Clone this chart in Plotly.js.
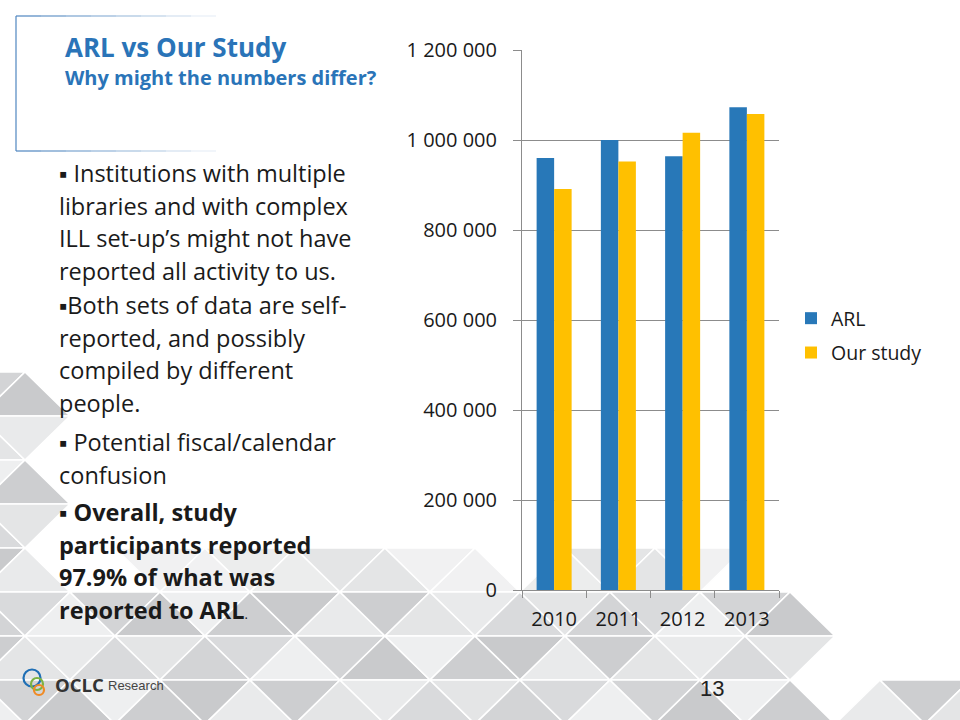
<!DOCTYPE html>
<html>
<head>
<meta charset="utf-8">
<script src="https://cdn.plot.ly/plotly-3.0.1.min.js"></script>
<style>
  html, body { margin: 0; padding: 0; background: #ffffff; }
  #chart { width: 960px; height: 720px; }
</style>
</head>
<body>
<div id="chart"></div>
<script>
// ---------- data ----------
const years = ['2010', '2011', '2012', '2013'];
const arlValues = [960000, 1000000, 964000, 1073000];
const studyValues = [891000, 952000, 1016000, 1058000];
const seriesNames = ['ARL', 'Our study'];
const yTickVals = [0, 200000, 400000, 600000, 800000, 1000000, 1200000];
const yTickLabels = ['0', '200 000', '400 000', '600 000', '800 000', '1 000 000', '1 200 000'];

const titleText = 'ARL vs Our Study';
const subtitleText = 'Why might the numbers differ?';
const paragraphs = [
  ['▪ Institutions with multiple', 'libraries and with complex', 'ILL set-up’s might not have', 'reported all activity to us.'],
  ['▪Both sets of data are self-', 'reported, and possibly', 'compiled by different', 'people.'],
  ['▪ Potential fiscal/calendar', 'confusion'],
  ['▪ <b>Overall, study</b>', '<b>participants reported</b>', '<b>97.9% of what was</b>', '<b>reported to ARL</b><span style="font-size:13px">.</span>']
];
const pageNumber = '13';

// ---------- geometry helpers (slide pixels -> paper coords) ----------
const W = 960, H = 720;
const PL = 522, PR = 779, PT = 50, PB = 590;
const px = x => (x - PL) / (PR - PL);
const py = y => (PB - y) / (PB - PT);

const ARL_BLUE = '#2878B8';
const STUDY_GOLD = '#FFC000';
const TEXT_FONT = '"Open Sans", "Noto Sans", sans-serif';

// ---------- background triangle pattern ----------
const shades = ['#d3d4d6', '#e4e5e6', '#cdced0', '#eeeff0', '#d9dadc', '#e9eaeb', '#c9cacc'];
function include(cx, cy) {
  if (cy < 362) return false;
  if (cy < 592) {
    if (cx < 62) return true;
    if (cy > 548 && cx > 150 && cx < 480) return true;
    if (cy > 548 && cx > 560 && cx < 720) return true;
    return false;
  }
  if (cx < 835) return true;
  if (cx > 870 && cy > 680) return true;
  return false;
}
function pick(i, j, t) {
  return shades[((i * 5 + j * 3 + t * 4) % shades.length + shades.length) % shades.length];
}
const shapes = [];
const ROW_H = 44;
for (let k = -6; k <= 2; k++) {
  const yTop = 592 + ROW_H * k;
  const yBot = yTop + ROW_H;
  const offTop = (Math.abs(k) % 2 === 0) ? 70 : 25;
  for (let j = -2; j <= 12; j++) {
    const tx = offTop + 90 * j;
    const up = [[tx, yTop], [tx - 45, yBot], [tx + 45, yBot]];
    const dn = [[tx, yTop], [tx + 90, yTop], [tx + 45, yBot]];
    [[up, 0], [dn, 1]].forEach(([tri, t]) => {
      const cx = (tri[0][0] + tri[1][0] + tri[2][0]) / 3;
      const cy = (tri[0][1] + tri[1][1] + tri[2][1]) / 3;
      if (!include(cx, cy)) return;
      let col = pick(k + 10, j + 10, t);
      if (cy < 592 && cx > 150) col = ['#eceded', '#e4e5e6', '#f1f1f2'][(j + t) % 3];
      const path = 'M' + tri.map(p => px(p[0]) + ',' + py(p[1])).join(' L') + ' Z';
      shapes.push({
        type: 'path', xref: 'paper', yref: 'paper', path: path,
        fillcolor: col, line: { color: '#ffffff', width: 1.6 }, layer: 'below'
      });
    });
  }
}

// title box lines (fading)
shapes.push({ type: 'line', xref: 'paper', yref: 'paper', x0: px(16), x1: px(16), y0: py(16), y1: py(151),
  line: { color: '#4F86C0', width: 1.2 }, layer: 'below' });
const fadeSteps = 8;
for (let s = 0; s < fadeSteps; s++) {
  const xa = 16 + s * 25, xb = xa + 25;
  const op = 1 - s / fadeSteps;
  [16, 151].forEach(yy => shapes.push({
    type: 'line', xref: 'paper', yref: 'paper', x0: px(xa), x1: px(xb), y0: py(yy), y1: py(yy),
    line: { color: '#4F86C0', width: 1.2 }, opacity: op, layer: 'below'
  }));
}

// OCLC logo rings
[[32, 678, 8.5, '#1f6fb5'], [37, 684, 6, '#7cb342'], [39, 690, 5, '#f08a24']].forEach(([cx, cy, r, c]) => {
  shapes.push({ type: 'circle', xref: 'paper', yref: 'paper',
    x0: px(cx - r), x1: px(cx + r), y0: py(cy + r), y1: py(cy - r),
    line: { color: c, width: 2.2 }, fillcolor: 'rgba(0,0,0,0)' });
});

// ---------- annotations ----------
const annotations = [];
annotations.push({ xref: 'paper', yref: 'paper', x: px(63), y: py(47), xanchor: 'left', yanchor: 'middle',
  text: '<b>' + titleText + '</b>', showarrow: false, font: { family: TEXT_FONT, size: 26, color: '#2A74B8' } });
annotations.push({ xref: 'paper', yref: 'paper', x: px(63), y: py(78), xanchor: 'left', yanchor: 'middle',
  text: '<b>' + subtitleText + '</b>', showarrow: false, font: { family: TEXT_FONT, size: 20, color: '#2A74B8' } });

const paraTop = [173, 305, 442, 512];
const lineStep = 32.6;
paragraphs.forEach((lines, p) => {
  lines.forEach((ln, i) => {
    annotations.push({ xref: 'paper', yref: 'paper', x: px(57), y: py(paraTop[p] + i * lineStep),
      xanchor: 'left', yanchor: 'middle', text: ln, showarrow: false,
      font: { family: TEXT_FONT, size: 23.5, color: '#1a1a1a' } });
  });
});

annotations.push({ xref: 'paper', yref: 'paper', x: px(53), y: py(684), xanchor: 'left', yanchor: 'middle',
  text: '<b>OCLC</b>', showarrow: false,
  font: { family: TEXT_FONT, size: 18.5, color: '#333333' } });
annotations.push({ xref: 'paper', yref: 'paper', x: px(106), y: py(685), xanchor: 'left', yanchor: 'middle',
  text: 'Research', showarrow: false, font: { family: '"Liberation Sans Narrow", Arial, sans-serif', size: 13, color: '#444444' } });

annotations.push({ xref: 'paper', yref: 'paper', x: px(712), y: py(688), xanchor: 'center', yanchor: 'middle',
  text: pageNumber, showarrow: false, font: { family: '"Liberation Sans", Arial, sans-serif', size: 22, color: '#222222' } });

// ---------- traces ----------
const traces = [
  { type: 'bar', name: seriesNames[0], x: years, y: arlValues, marker: { color: ARL_BLUE },
    legendgroup: 'a', hoverinfo: 'x+y' },
  { type: 'bar', name: seriesNames[1], x: years, y: studyValues, marker: { color: STUDY_GOLD },
    legendgroup: 'b', hoverinfo: 'x+y' }
];

const layout = {
  width: W, height: H,
  margin: { l: PL, r: W - PR, t: PT, b: H - PB, pad: 0 },
  paper_bgcolor: '#ffffff',
  plot_bgcolor: 'rgba(0,0,0,0)',
  barmode: 'group',
  bargap: 0.455,
  bargroupgap: 0,
  showlegend: true,
  legend: {
    x: px(791), y: py(299), xanchor: 'left', yanchor: 'top',
    font: { family: TEXT_FONT, size: 19.5, color: '#1a1a1a' },
    bgcolor: 'rgba(0,0,0,0)', traceorder: 'grouped', tracegroupgap: 6
  },
  xaxis: {
    type: 'category', showgrid: false, showline: true, linecolor: '#8c8c8c', linewidth: 1,
    ticks: 'outside', tickson: 'boundaries', ticklen: 7, tickcolor: '#8c8c8c',
    tickfont: { family: TEXT_FONT, size: 20, color: '#1a1a1a' }, ticklabelstandoff: 11,
    fixedrange: true
  },
  yaxis: {
    range: [0, 1200000], tickvals: yTickVals, ticktext: yTickLabels,
    showgrid: true, gridcolor: '#8c8c8c', gridwidth: 1, zeroline: false,
    showline: true, linecolor: '#8c8c8c', linewidth: 1,
    ticks: 'outside', ticklen: 8, tickcolor: '#8c8c8c',
    tickfont: { family: TEXT_FONT, size: 20, color: '#1a1a1a' }, ticklabelstandoff: 12,
    fixedrange: true
  },
  shapes: shapes,
  annotations: annotations
};

Plotly.newPlot('chart', traces, layout, { displayModeBar: false, staticPlot: true });
</script>
</body>
</html>
